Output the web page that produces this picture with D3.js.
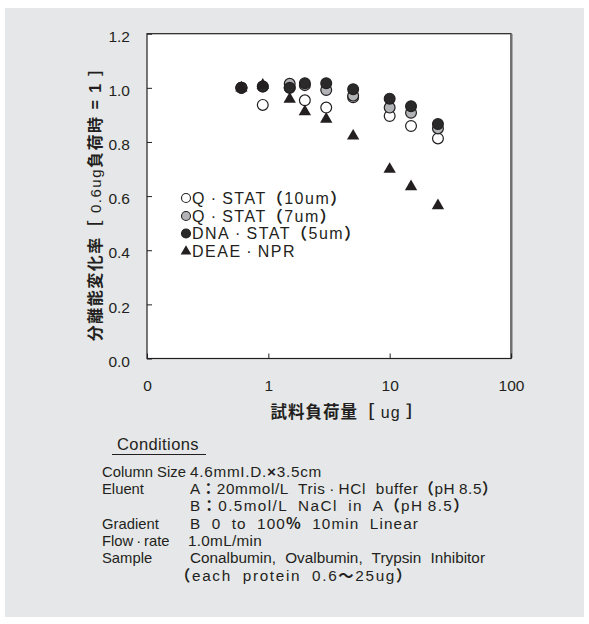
<!DOCTYPE html>
<html>
<head>
<meta charset="utf-8">
<script src="https://cdn.jsdelivr.net/npm/d3@7"></script>
<style>
  body { margin: 0; background: #fff; }
  svg { display: block; font-family: "Liberation Sans", Arial, sans-serif; }
  .jp { font-family: "Noto Sans CJK JP", sans-serif; }
</style>
</head>
<body>
<svg id="chart" width="589" height="624"></svg>
<script>
// sample load (ug) on x
const loads = [0.6, 0.9, 1.5, 2, 3, 5, 10, 15, 25];
// resolution relative to 0.6ug load
const qstat10 = [1.0, 0.937, 1.0, 0.954, 0.927, 0.965, 0.896, 0.859, 0.813];
const qstat7 = [1.0, 1.005, 1.015, 1.01, 0.992, 0.971, 0.927, 0.908, 0.85];
const dnastat5 = [1.0, 1.005, 1.0, 1.017, 1.017, 0.995, 0.96, 0.932, 0.866];
const deaeNpr = [1.0, 1.01, 0.958, 0.912, 0.884, 0.822, 0.699, 0.635, 0.565];

const dot = "\u2009·\u2009";
const thin = "\u2009";
const seriesNames = [`Q${dot}STAT（10um）`, `Q${dot}STAT（7um）`, `DNA${dot}STAT（5um）`, `DEAE${dot}NPR`];
const xTicks = [0.1, 1, 10, 100];
const xTickLabels = ["0", "1", "10", "100"];
const yTicks = [0, 0.2, 0.4, 0.6, 0.8, 1.0, 1.2];

const conditionLabels = ["Column Size", "Eluent", "", "Gradient", `Flow${dot}rate`, "Sample", ""];
const conditionValues = [
  "4.6mmI.D.×3.5cm",
  `A：20mmol/L Tris${dot}HCl buffer（pH${thin}8.5）`,
  `B：0.5mol/L NaCl in A（pH${thin}8.5）`,
  "B 0 to 100% 10min Linear",
  "1.0mL/min",
  "Conalbumin, Ovalbumin, Trypsin Inhibitor",
  "（each protein 0.6～25ug）"
];
// printed widths of the value lines
const conditionWidths = [132, 308, 280, 229, 74, 295, 238];

const ink = "#231f20";
const svg = d3.select("#chart");

// put fullwidth punctuation in a bold CJK face, like the print
function richText(sel, str) {
  str.split(/([：（）～×%])/).filter(s => s.length).forEach(part => {
    const t = sel.append("tspan").style("white-space", "pre").text(part);
    if (/^[：（）～%]$/.test(part)) t.attr("font-family", "Noto Sans CJK JP").attr("font-weight", "bold");
    if (part === "×") t.attr("font-weight", "bold");
  });
}

// widen word gaps (capped), then letters, so a line fills its printed width
function fitWords(sel, width) {
  const txt = sel.text();
  const gaps = (txt.match(/ /g) || []).length;
  let extra = width - sel.node().getComputedTextLength();
  if (extra <= 0) return;
  if (gaps) {
    const ws = Math.min(extra / gaps, 5);
    sel.style("word-spacing", ws + "px");
    extra -= ws * gaps;
  }
  if (extra > 0) sel.attr("letter-spacing", extra / txt.length);
}

// grey panel
svg.append("rect").attr("x", 5).attr("y", 8).attr("width", 579).attr("height", 609).attr("fill", "#e6e7e8");

const x = d3.scaleLog().domain([0.1, 100]).range([147, 511]);
const y = d3.scaleLinear().domain([0, 1.2]).range([358.5, 33.7]);

// plot area
svg.append("rect").attr("x", 147).attr("y", 33.7).attr("width", 364).attr("height", 324.8)
  .attr("fill", "#fff").attr("stroke", ink).attr("stroke-width", 1.2);
svg.append("line").attr("x1", 511.5).attr("x2", 511.5).attr("y1", 34).attr("y2", 358)
  .attr("stroke", "#6f6f6f").attr("stroke-width", 2);

// axes
const yAxis = d3.axisLeft(y).tickValues(yTicks).tickSize(-5).tickPadding(17)
  .tickFormat(d3.format(".1f"));
const gy = svg.append("g").attr("transform", "translate(147,0)").call(yAxis);
gy.select(".domain").remove();
gy.selectAll(".tick line").attr("stroke", ink);
gy.selectAll(".tick text").attr("font-size", 15.5).attr("fill", ink)
  .attr("font-family", "Liberation Sans, Arial, sans-serif").attr("dy", "0.5em");

const xAxis = d3.axisBottom(x).tickValues(xTicks).tickSize(-5).tickPadding(21)
  .tickFormat((d, i) => xTickLabels[i]);
const gx = svg.append("g").attr("transform", "translate(0,358.5)").call(xAxis);
gx.select(".domain").remove();
gx.selectAll(".tick line").attr("stroke", ink);
gx.selectAll(".tick text").attr("font-size", 15.5).attr("fill", ink)
  .attr("font-family", "Liberation Sans, Arial, sans-serif");

// markers
const r = 5.4;
const circleSeries = [
  { vals: qstat10, fill: "#fff" },
  { vals: qstat7, fill: "#b1b3b6" },
  { vals: dnastat5, fill: "#2b2a2b" }
];
circleSeries.forEach(s => {
  svg.append("g").selectAll("circle").data(loads).join("circle")
    .attr("cx", d => x(d)).attr("cy", (d, i) => y(s.vals[i])).attr("r", r)
    .attr("fill", s.fill).attr("stroke", ink).attr("stroke-width", 1.2);
});
const tri = d3.symbol().type(d3.symbolTriangle).size(66);
svg.append("g").selectAll("path").data(loads).join("path")
  .attr("d", tri).attr("fill", ink)
  .attr("transform", (d, i) => `translate(${x(d)},${y(deaeNpr[i])})`);

// legend
const legY = [198, 216, 233.5, 251];
const lg = svg.append("g");
const legMarks = [
  { fill: "#fff", type: "c" }, { fill: "#b1b3b6", type: "c" },
  { fill: "#2b2a2b", type: "c" }, { type: "t" }
];
seriesNames.forEach((name, i) => {
  const m = legMarks[i];
  if (m.type === "c") {
    lg.append("circle").attr("cx", 186).attr("cy", legY[i]).attr("r", 4.5)
      .attr("fill", m.fill).attr("stroke", ink).attr("stroke-width", 1.1);
  } else {
    lg.append("path").attr("d", d3.symbol().type(d3.symbolTriangle).size(50))
      .attr("fill", ink).attr("transform", `translate(186,${legY[i] + 0.5})`);
  }
  const t = lg.append("text").attr("x", 192).attr("y", legY[i]).attr("dy", "0.36em")
    .attr("font-size", 16).attr("letter-spacing", 1.5).attr("fill", ink);
  richText(t, name);
});

// y title
const yt = svg.append("text").attr("class", "jp")
  .attr("transform", "translate(101,200) rotate(-90)")
  .attr("text-anchor", "middle").attr("font-size", 16).attr("letter-spacing", 1.5).attr("fill", ink);
yt.append("tspan").attr("font-weight", "bold").text("分離能変化率［");
yt.append("tspan").attr("font-family", "Liberation Sans, Arial").attr("font-size", 15).style("white-space", "pre").text(" 0.6ug");
yt.append("tspan").attr("font-weight", "bold").text("負荷時");
yt.append("tspan").attr("font-family", "Liberation Sans, Arial").attr("font-weight", "bold").style("white-space", "pre").text(" = 1 ");
yt.append("tspan").attr("font-weight", "bold").text("］");

// x title
const xt = svg.append("text").attr("class", "jp").attr("x", 347).attr("y", 418)
  .attr("text-anchor", "middle").attr("font-size", 16.5).attr("letter-spacing", 1).attr("fill", ink);
xt.append("tspan").attr("font-weight", "bold").text("試料負荷量［");
xt.append("tspan").attr("font-family", "Liberation Sans, Arial").attr("font-size", 16).style("white-space", "pre").text(" ug ");
xt.append("tspan").attr("font-weight", "bold").text("］");

// conditions block
svg.append("text").attr("x", 117).attr("y", 450).attr("font-size", 16.5).attr("letter-spacing", 0.4)
  .attr("fill", ink).text("Conditions");
svg.append("line").attr("x1", 112).attr("x2", 206).attr("y1", 454.5).attr("y2", 454.5)
  .attr("stroke", ink).attr("stroke-width", 1);

const rowY = d3.scaleLinear().domain([0, 6]).range([476.5, 580.5]);
conditionLabels.forEach((lab, i) => {
  if (lab) {
    const t = svg.append("text").attr("x", 102).attr("y", rowY(i)).attr("font-size", 14.8).attr("fill", ink);
    richText(t, lab);
  }
  const v = svg.append("text").attr("x", i === 6 ? 175 : (i === 4 ? 188 : 190)).attr("y", rowY(i))
    .attr("font-size", 15.3).attr("fill", ink);
  richText(v, conditionValues[i]);
  fitWords(v, conditionWidths[i]);
});
</script>
</body>
</html>
